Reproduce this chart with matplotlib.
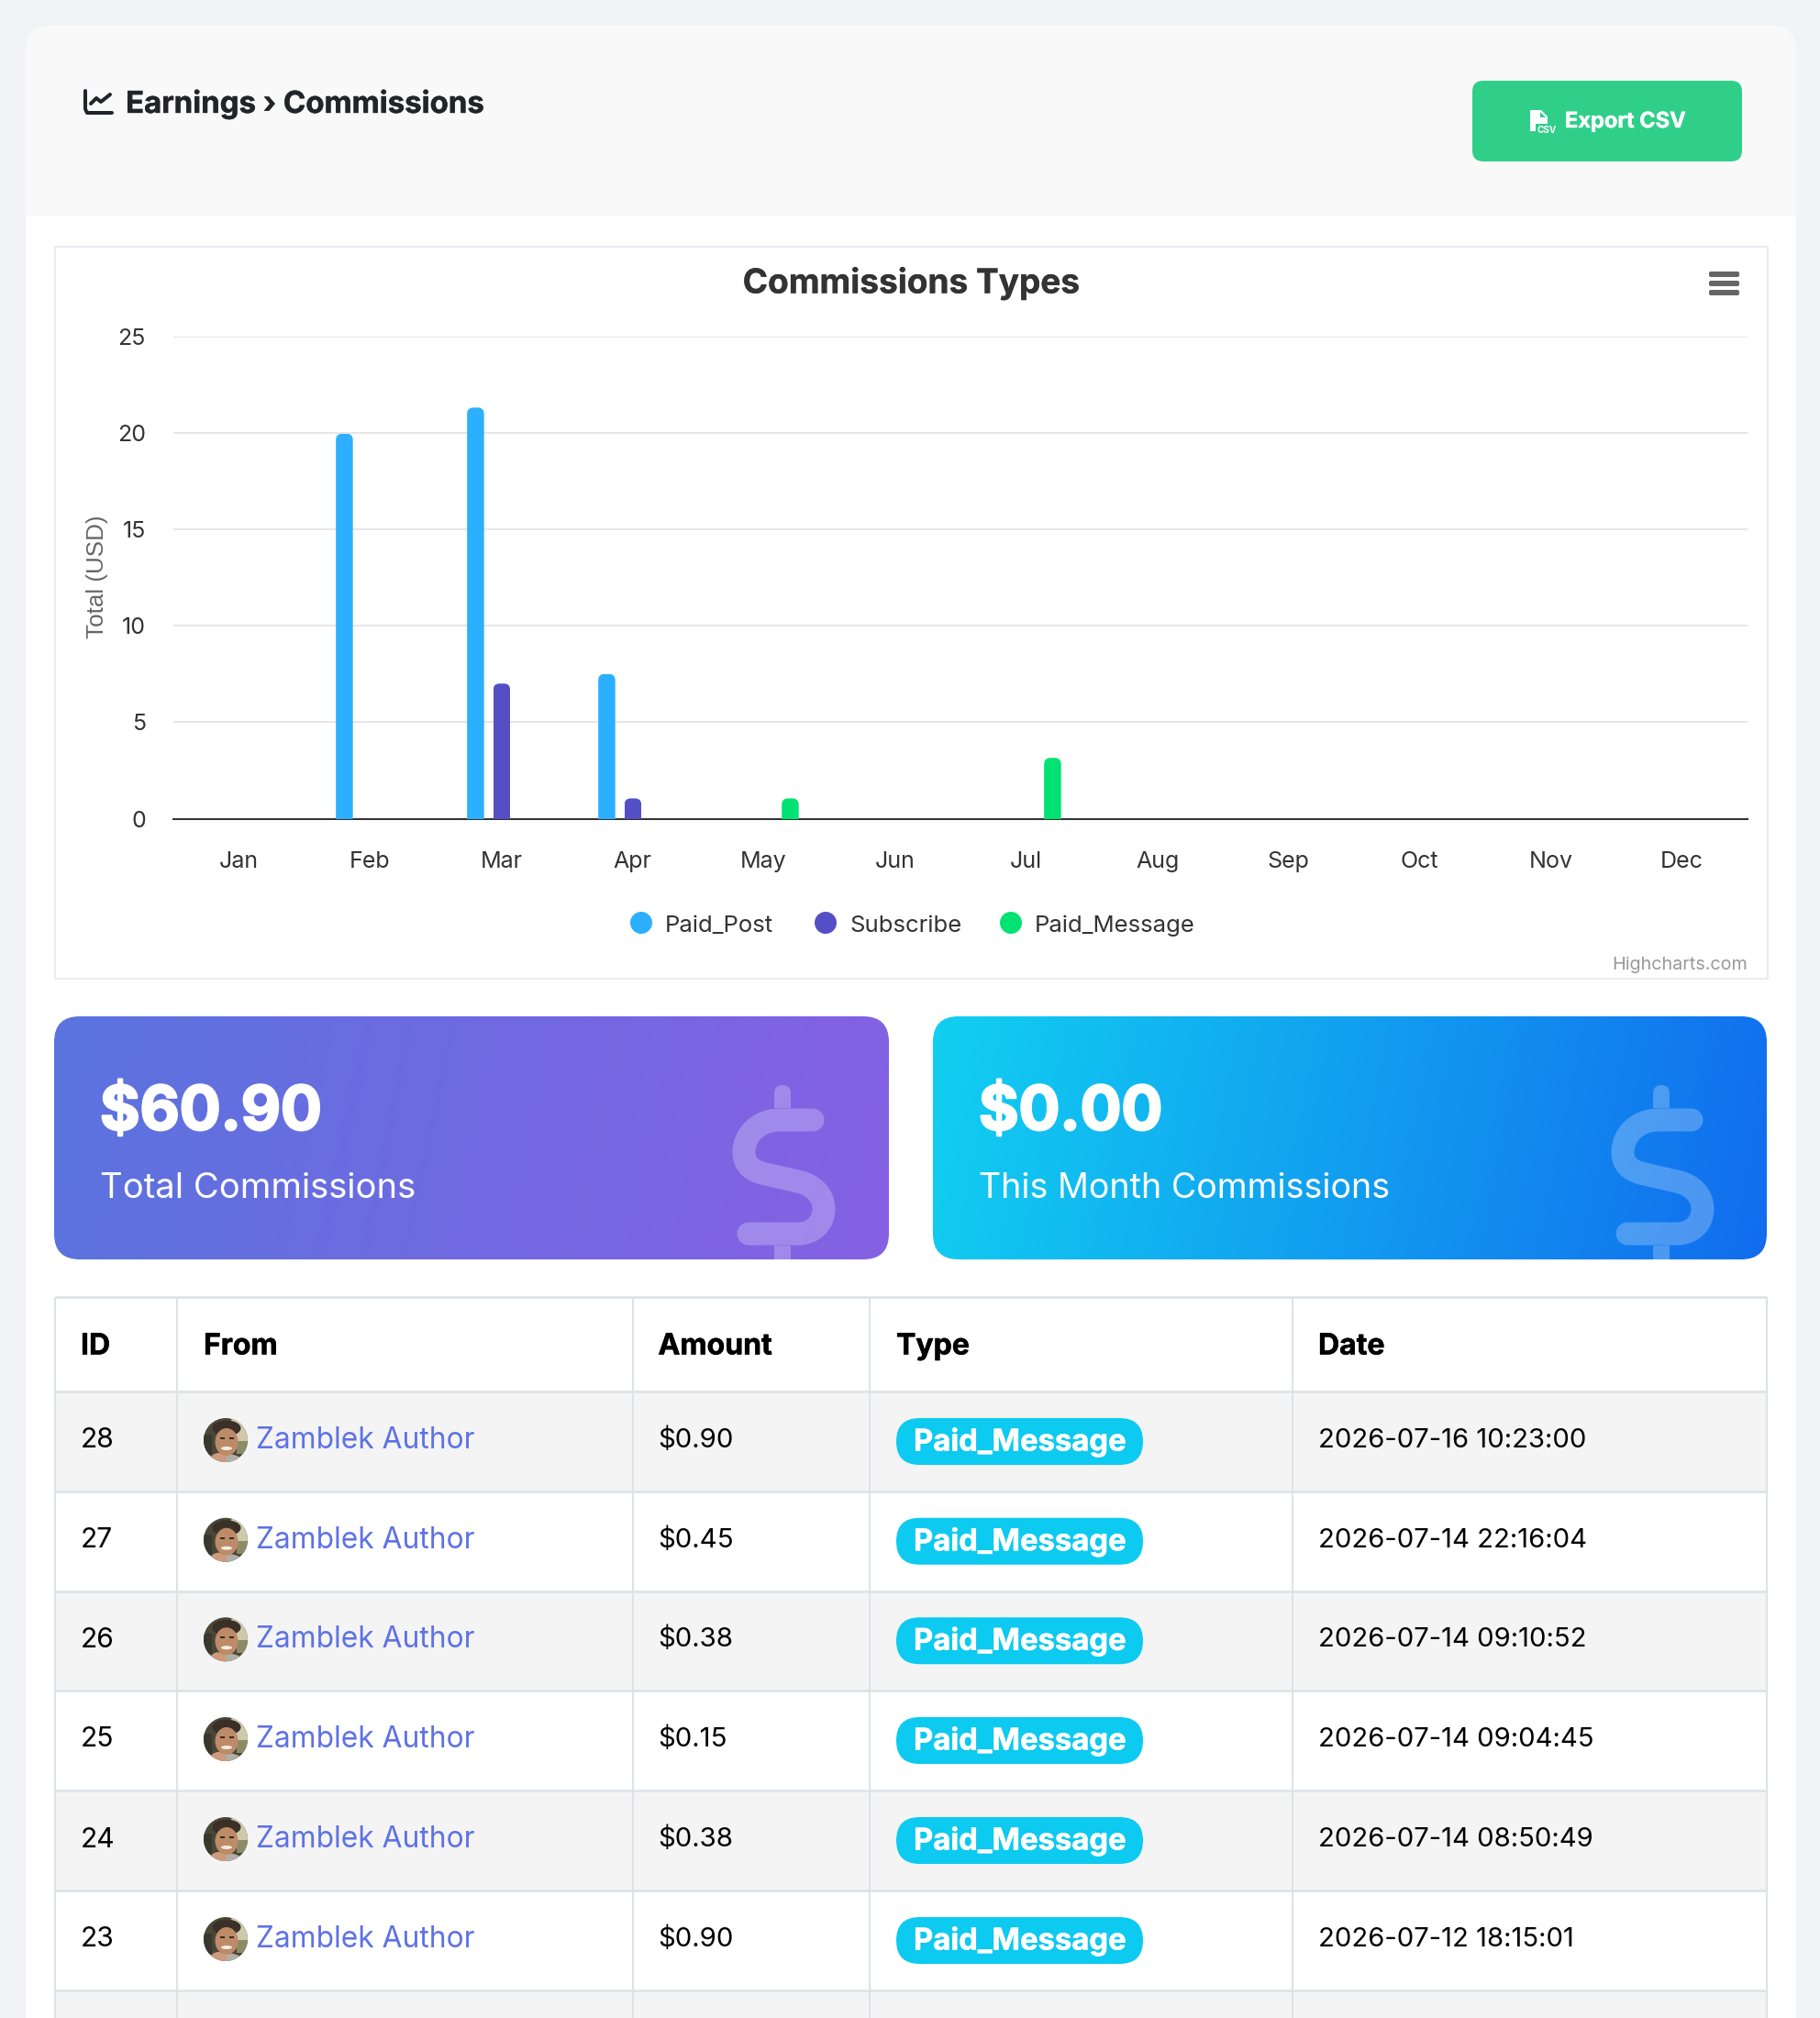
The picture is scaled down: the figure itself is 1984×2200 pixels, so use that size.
import numpy as np
import matplotlib
matplotlib.use("Agg")
import matplotlib.pyplot as plt
import matplotlib.patheffects as pe
from matplotlib.patches import FancyBboxPatch, Rectangle, Circle, Ellipse, PathPatch, Polygon
from matplotlib.path import Path
from matplotlib.transforms import IdentityTransform
from matplotlib.colors import to_rgb

# ---- data ----
months = ["Jan", "Feb", "Mar", "Apr", "May", "Jun", "Jul", "Aug", "Sep", "Oct", "Nov", "Dec"]
paid_post = [0, 19.95, 21.3, 7.5, 0, 0, 0, 0, 0, 0, 0, 0]
subscribe = [0, 0, 7.0, 1.05, 0, 0, 0, 0, 0, 0, 0, 0]
paid_message = [0, 0, 0, 0, 1.05, 0, 3.15, 0, 0, 0, 0, 0]
series_names = ["Paid_Post", "Subscribe", "Paid_Message"]
series_colors = ["#2caffe", "#544fc5", "#00e272"]
y_ticks = [0, 5, 10, 15, 20, 25]
headers = ["ID", "From", "Amount", "Type", "Date"]
row_ids = ["28", "27", "26", "25", "24", "23"]
row_from = "Zamblek Author"
row_amounts = ["$0.90", "$0.45", "$0.38", "$0.15", "$0.38", "$0.90"]
row_type = "Paid_Message"
row_dates = ["2026-07-16 10:23:00", "2026-07-14 22:16:04", "2026-07-14 09:10:52",
             "2026-07-14 09:04:45", "2026-07-14 08:50:49", "2026-07-12 18:15:01"]

W, H = 1984, 2200
UI = "Inter"
fig = plt.figure(figsize=(W / 100, H / 100), dpi=100, facecolor="#f1f3f6")
bg = fig.add_axes([0, 0, 1, 1], zorder=0)
bg.set_xlim(0, W); bg.set_ylim(H, 0); bg.axis("off")


def px(v):
    return v * 0.72


def rrect(x0, y0, x1, y1, r, **kw):
    p = FancyBboxPatch((x0 + r, y0 + r), x1 - x0 - 2 * r, y1 - y0 - 2 * r,
                       boxstyle=f"round,pad={r},rounding_size={r}", linewidth=kw.pop("lw", 0), **kw)
    bg.add_patch(p)
    return p


def txt(x, y, s, size, color="#000000", weight="normal", ha="left", va="center", family=UI, heavy=0, **kw):
    t = bg.text(x, y, s, fontsize=px(size), color=color, fontweight=weight, ha=ha, va=va,
                family=family, **kw)
    if heavy:
        t.set_path_effects([pe.withStroke(linewidth=px(heavy), foreground=color)])
    return t


def gradient(x0, y0, x1, y1, c0, c1, clip):
    xx, yy = np.meshgrid(np.linspace(0, 1, 400), np.linspace(0, 1, 100))
    t = ((xx + 0.06 * yy) / 1.06)[..., None]
    img = np.array(to_rgb(c0)) * (1 - t) + np.array(to_rgb(c1)) * t
    im = bg.imshow(img, extent=(x0, x1, y1, y0), aspect="auto", zorder=2, interpolation="bilinear")
    im.set_clip_path(clip)


def dollar(dx):
    a = dict(facecolor="white", alpha=0.25, edgecolor="none", zorder=3)
    verts = [(886, 1221), (850, 1221), (826, 1221), (811, 1238), (811, 1256),
             (811, 1270), (820, 1277), (835, 1280), (870, 1288), (888, 1292), (898, 1304), (898, 1318),
             (898, 1334), (886, 1345), (870, 1345), (816, 1345)]
    codes = [Path.MOVETO, Path.LINETO, Path.CURVE4, Path.CURVE4, Path.CURVE4,
             Path.CURVE4, Path.CURVE4, Path.CURVE4, Path.LINETO, Path.CURVE4, Path.CURVE4, Path.CURVE4,
             Path.CURVE4, Path.CURVE4, Path.CURVE4, Path.LINETO]
    v = [(x + dx, y) for x, y in verts]
    bg.add_patch(PathPatch(Path(v, codes), facecolor="none", edgecolor="white", alpha=0.25,
                           lw=px(25), capstyle="round", joinstyle="round", zorder=3))
    top = [(844, 1208), (844, 1192), (844, 1183), (853, 1183), (862, 1183), (862, 1192), (862, 1208), (844, 1208)]
    tc = [Path.MOVETO, Path.LINETO, Path.CURVE3, Path.CURVE3, Path.CURVE3, Path.CURVE3, Path.LINETO, Path.CLOSEPOLY]
    bg.add_patch(PathPatch(Path([(x + dx, y) for x, y in top], tc), **a))
    bg.add_patch(Rectangle((844 + dx, 1358), 18, 15, **a))


def avatar(cx, cy):
    c = Circle((cx, cy), 24, facecolor="#4a4739", edgecolor="none", zorder=4)
    bg.add_patch(c)
    parts = [
        Ellipse((cx + 17, cy - 13), 26, 32, facecolor="#cfc8ac", edgecolor="none", zorder=4),
        Rectangle((cx + 12, cy + 1), 12, 14, facecolor="#8d8a68", edgecolor="none", zorder=4),
        Rectangle((cx - 24, cy - 6), 9, 22, facecolor="#38382c", edgecolor="none", zorder=4),
        Ellipse((cx, cy + 29), 46, 28, facecolor="#b1aea6", edgecolor="none", zorder=4),
        Ellipse((cx - 8, cy + 22), 18, 16, facecolor="#cd9a7b", edgecolor="none", zorder=4),
        Ellipse((cx + 1, cy - 13), 31, 17, facecolor="#3a3027", edgecolor="none", zorder=5),
        Ellipse((cx + 1, cy + 2), 25, 30, facecolor="#bd8b68", edgecolor="none", zorder=5),
        Rectangle((cx - 6, cy - 3), 5, 2, facecolor="#3a2a20", edgecolor="none", zorder=6),
        Rectangle((cx + 4, cy - 3), 5, 2, facecolor="#3a2a20", edgecolor="none", zorder=6),
        Ellipse((cx + 1, cy + 9), 12, 4, facecolor="#f3ebe0", edgecolor="none", zorder=6),
    ]
    for p in parts:
        bg.add_patch(p)
        p.set_clip_path(c)


# ---- page frame ----
rrect(28, 28, 1958, 2400, 28, facecolor="#ffffff", zorder=1)
rrect(28, 28, 1958, 300, 28, facecolor="#f9f9fa", zorder=1)
bg.add_patch(Rectangle((28, 236), 1930, 70, facecolor="#ffffff", edgecolor="none", zorder=1))

# breadcrumb
bg.plot([93, 93, 95, 122], [99, 119, 123, 123], color="#212529", lw=px(4), solid_capstyle="round",
        solid_joinstyle="round", zorder=3)
bg.plot([99, 105, 110, 120], [113, 107, 111, 103], color="#212529", lw=px(4), solid_capstyle="round",
        solid_joinstyle="round", zorder=3)
txt(137, 114, "Earnings › Commissions", 33, "#212529", "bold", heavy=0.4)

# export button
rrect(1605, 88, 1899, 176, 12, facecolor="#2fcf8a", zorder=2)
bg.add_patch(Polygon([(1668, 120), (1680, 120), (1687, 127), (1687, 143), (1668, 143)],
                     facecolor="white", edgecolor="none", zorder=3))
bg.add_patch(Polygon([(1679, 122), (1685, 128), (1679, 128)], facecolor="#2fcf8a", edgecolor="none", zorder=3))
bg.add_patch(Rectangle((1674, 135), 24, 13, facecolor="#2fcf8a", edgecolor="none", zorder=3))
txt(1676, 142, "CSV", 10, "white", "bold", zorder=4)
txt(1706, 133, "Export CSV", 23.6, "white", "bold", heavy=0.4, zorder=4)

# chart box
bg.add_patch(Rectangle((59.5, 268.5), 1867, 798, facecolor="white", edgecolor="#e8ebf3", lw=px(2), zorder=1.5))
txt(993, 309, "Commissions Types", 37, "#333333", "bold", ha="center", heavy=0.3)
for yy in (299, 309, 319):
    rrect(1863, yy - 3, 1896, yy + 3, 2, facecolor="#666666", zorder=3)

ax = fig.add_axes([189 / W, 1 - 892.5 / H, (1905 - 189) / W, (892.5 - 366.5) / H], zorder=2)
ax.patch.set_alpha(0)
ax.set_xlim(-0.5, 11.5); ax.set_ylim(0, 25)
for s in ("top", "left", "right"):
    ax.spines[s].set_visible(False)
ax.spines["bottom"].set_color("#333333"); ax.spines["bottom"].set_linewidth(px(2))
ax.set_yticks(y_ticks); ax.set_xticks(range(12)); ax.set_xticklabels(months)
ax.tick_params(axis="both", length=0, labelcolor="#333333", labelsize=px(25))
ax.tick_params(axis="y", pad=px(30)); ax.tick_params(axis="x", pad=px(35))
for lab in ax.get_xticklabels() + ax.get_yticklabels():
    lab.set_family(UI)
ax.grid(axis="y", color="#e6e6e6", lw=px(2)); ax.set_axisbelow(True)
xs = np.arange(12)
bw = 18.5 / (1716 / 12)
off = 28.5 / (1716 / 12)
fig.canvas.draw()
for i, vals in enumerate((paid_post, subscribe, paid_message)):
    for b in ax.bar(xs + (i - 1) * off + 0.003, vals, width=bw, color=series_colors[i], zorder=3):
        if b.get_height() <= 0:
            b.set_visible(False)
            continue
        e = b.get_window_extent()
        r = 7
        rp = FancyBboxPatch((e.x0 + r, e.y0 - 20), e.width - 2 * r, e.height + 20 - r,
                            boxstyle=f"round,pad={r},rounding_size={r}", transform=IdentityTransform())
        b.set_clip_path(rp.get_path().transformed(rp.get_transform()), IdentityTransform())
bg.text(105.5, 629, "Total (USD)", fontsize=px(26), color="#666666", rotation=90, ha="center", va="center",
        family="Liberation Sans")
for cx, tx, name, col in zip((699, 900, 1102), (725, 926, 1128), series_names, series_colors):
    bg.add_patch(Circle((cx, 1006), 12, facecolor=col, edgecolor="none", zorder=3))
    txt(tx, 1009, name, 25.7, "#333333")
txt(1905, 1052, "Highcharts.com", 19.8, "#999999", ha="right")

# KPI cards
c1 = rrect(59, 1108, 969, 1373, 28, facecolor="none", zorder=2)
c2 = rrect(1017, 1108, 1926, 1373, 28, facecolor="none", zorder=2)
gradient(59, 1108, 969, 1373, "#5a74de", "#8660e4", c1)
gradient(1017, 1108, 1926, 1373, "#12d0f1", "#116cee", c2)
bg.set_xlim(0, W); bg.set_ylim(H, 0)
for dx, val, lab, x, fs in ((0, "$60.90", "Total Commissions", 109, 38.2),
                            (958, "$0.00", "This Month Commissions", 1067, 37.6)):
    dollar(dx)
    txt(x, 1214, val, 66.5, "white", "bold", heavy=2.5, zorder=4)
    txt(x, 1296, lab, fs, "white", zorder=4)

# table
col_x = [60, 193, 690, 948, 1409, 1926]
row_y = [1414, 1517, 1626, 1734.5, 1843, 1952, 2061, 2170, 2300]
text_x = [88, 222, 717.5, 977, 1437]
bg.add_patch(Rectangle((60, 1414), 1866, 900, facecolor="white", edgecolor="none", zorder=2))
for i in range(0, 7, 2):
    bg.add_patch(Rectangle((60, row_y[i + 1]), 1866, row_y[i + 2] - row_y[i + 1], facecolor="#f4f4f5",
                           edgecolor="none", zorder=2))
for x in col_x:
    bg.plot([x, x], [1414, H], color="#dee2e6", lw=px(2), zorder=3, solid_capstyle="butt")
for y in row_y[:-1]:
    bg.plot([60, 1926], [y, y], color="#dee2e6", lw=px(2.6), zorder=3, solid_capstyle="butt")
for x, h in zip(text_x, headers):
    txt(x, 1468, h, 32, "#000000", "bold", heavy=0.5, zorder=5)
for i in range(7):
    cy = (row_y[i + 1] + row_y[i + 2]) / 2
    avatar(246, cy - 1.5)
    rrect(977, cy - 25.5, 1246, cy + 25.5, 25.5, facecolor="#0dcaf0", zorder=4)
    if i < 6:
        txt(88, cy - 1, row_ids[i], 30, "#000000", zorder=5)
        txt(279, cy - 1, row_from, 31.7, "#5e72e4", zorder=5)
        txt(717.5, cy - 1, row_amounts[i], 29.4, "#000000", zorder=5)
        txt(996, cy + 1, row_type, 32.8, "white", "bold", heavy=0.5, zorder=5)
        txt(1437, cy - 1, row_dates[i], 29.2, "#000000", zorder=5)

bg.set_xlim(0, W); bg.set_ylim(H, 0)
fig.savefig("out.png", dpi=100, facecolor=fig.get_facecolor())
